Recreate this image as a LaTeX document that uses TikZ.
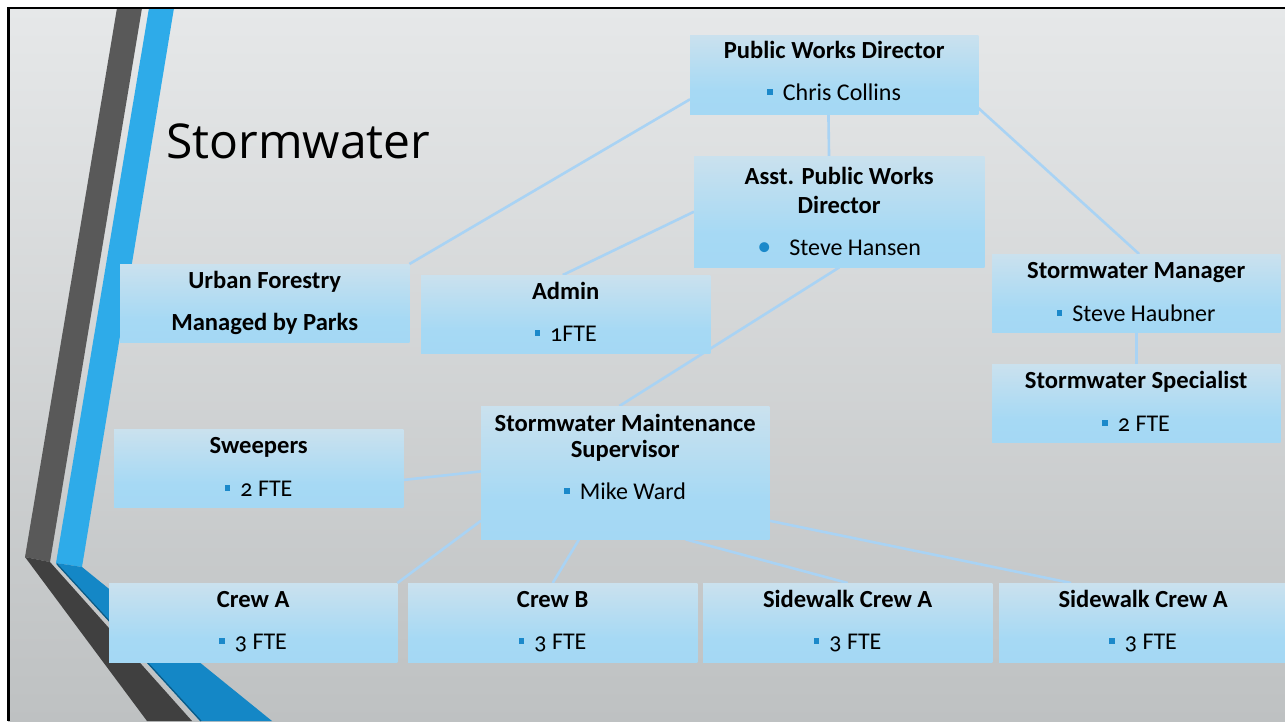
\documentclass[tikz,border=0pt]{standalone}
\usepackage{fontspec}
\setmainfont{Carlito}[Numbers=OldStyle]
\newfontfamily\titlefont{Open Sans}
\usetikzlibrary{calc}
\definecolor{bgtop}{HTML}{E6E8E9}
\definecolor{bgbot}{HTML}{BEC1C2}
\definecolor{dkA}{HTML}{595959}
\definecolor{dkB}{HTML}{404040}
\definecolor{blA}{HTML}{2EABE9}
\definecolor{blB}{HTML}{1487C6}
\definecolor{bledge}{HTML}{0B5A85}
\definecolor{conncol}{HTML}{A9D3F4}
\definecolor{bul}{HTML}{1B89CA}
\definecolor{bxtop}{HTML}{E4E7EA}
\definecolor{bxmid}{HTML}{A6D9F4}
\definecolor{bxblue}{HTML}{A2D7F4}
\definecolor{bxbot}{HTML}{C6E9FB}
\pgfdeclareverticalshading{boxshade}{100bp}{color(0bp)=(bxbot); color(9bp)=(bxblue); color(40bp)=(bxmid); color(100bp)=(bxtop)}
\newcommand{\sqb}{{\color{bul}\rule[5.5pt]{5.5pt}{5.5pt}}\hspace{10pt}}
\newcommand{\rdb}{{\color{bul}\fontsize{28}{28}\selectfont\textbullet}\hspace{18pt}}
\tikzset{
  box/.style={rectangle, draw=none, shading=boxshade, inner sep=0pt, anchor=north west},
  ttl/.style={anchor=base, inner sep=0pt, font=\fontsize{24.6}{24.6}\selectfont\bfseries},
  itm/.style={anchor=base, inner sep=0pt, font=\fontsize{24}{24}\selectfont},
  conn/.style={draw=conncol, line width=2.6pt}
}
\begin{document}
\begin{tikzpicture}[x=1pt,y=-1pt]
\useasboundingbox (0,0) rectangle (1285,721);
\fill[white] (0,0) rectangle (1285,721);
\shade[top color=bgtop, bottom color=bgbot] (8,8) rectangle (1285,721);
% left decoration
\fill[dkA] (117,8) -- (142,8) -- (50,562) -- (25,557) -- cycle;
\fill[dkB] (25,557) -- (50,562) -- (192,721) -- (147,721) -- cycle;
\fill[blA] (149,8) -- (174,8) -- (82,567) -- (56,563) -- cycle;
\fill[blB] (56,563) -- (82,567) -- (272,721) -- (200,721) -- cycle;
\draw[bledge, line width=1.2pt] (57,564) -- (201,721);
% frame
\draw[black, line width=2.5pt] (1285,8) -- (8.5,8) -- (8.5,721);
% title
\node[anchor=base west, inner sep=0pt, font=\titlefont\fontsize{48}{48}\selectfont] (title) at (166,158) {Stormwater};
% boxes
\node[box, minimum width=288pt, minimum height=79pt] (pwd) at (690,35) {};
\node[box, minimum width=290pt, minimum height=111pt] (asst) at (694,156) {};
\node[box, minimum width=289pt, minimum height=78pt] (uf) at (120,264) {};
\node[box, minimum width=289pt, minimum height=78pt] (admin) at (421,275) {};
\node[box, minimum width=288pt, minimum height=78pt] (swm) at (992,254) {};
\node[box, minimum width=288pt, minimum height=78pt] (sws) at (992,364) {};
\node[box, minimum width=289pt, minimum height=78pt] (swp) at (114,429) {};
\node[box, minimum width=288pt, minimum height=133pt] (sms) at (481,406) {};
\node[box, minimum width=288pt, minimum height=79pt] (cra) at (109,583) {};
\node[box, minimum width=289pt, minimum height=79pt] (crb) at (408,583) {};
\node[box, minimum width=289pt, minimum height=79pt] (swa) at (703,583) {};
\node[box, minimum width=288pt, minimum height=79pt] (swb) at (999,583) {};
% connectors
\draw[conn] ($(pwd.north west)!0.81!(pwd.south west)$) -- (uf.north east);
\draw[conn] ($(pwd.south west)!0.48!(pwd.south east)$) -- ($(asst.north west)!0.465!(asst.north east)$);
\draw[conn] ($(pwd.north east)!0.92!(pwd.south east)$) -- ($(swm.north west)!0.51!(swm.north east)$);
\draw[conn] (asst.west) -- ($(admin.north west)!0.49!(admin.north east)$);
\draw[conn] ($(asst.south west)!0.5!(asst.south east)$) -- ($(sms.north west)!0.48!(sms.north east)$);
\draw[conn] (swm.south) -- (sws.north);
\draw[conn] ($(sms.north west)!0.49!(sms.south west)$) -- ($(swp.north east)!0.65!(swp.south east)$);
\draw[conn] ($(sms.north west)!0.86!(sms.south west)$) -- (cra.north east);
\draw[conn] ($(sms.south west)!0.34!(sms.south east)$) -- (crb.north);
\draw[conn] ($(sms.south west)!0.71!(sms.south east)$) -- (swa.north);
\draw[conn] ($(sms.north east)!0.86!(sms.south east)$) -- ($(swb.north west)!0.25!(swb.north east)$);
% redraw boxes on top of connectors
\foreach \b in {pwd,asst,uf,admin,swm,sws,swp,sms,cra,crb,swa,swb}{
  \shade[shading=boxshade] (\b.north west) rectangle (\b.south east);
}
% texts
\node[ttl] (pwdA) at ($(pwd.north)+(0,23)$) {Public Works Director};
\node[itm] (pwdB) at ($(pwd.north)+(0,65)$) {\sqb Chris Collins};
\node[ttl] (asstA) at ($(asst.north)+(0,28)$) {Asst. Public Works};
\node[ttl] (asstB) at ($(asst.north)+(0,57)$) {Director};
\node[itm] (asstC) at ($(asst.north)+(0,99)$) {\rdb Steve Hansen};
\node[ttl] (ufA) at ($(uf.north)+(0,24)$) {Urban Forestry};
\node[ttl] (ufB) at ($(uf.north)+(0,66)$) {Managed by Parks};
\node[ttl] (adminA) at ($(admin.north)+(0,24)$) {Admin};
\node[itm] (adminB) at ($(admin.north)+(0,66)$) {\sqb 1FTE};
\node[ttl] (swmA) at ($(swm.north)+(0,24)$) {Stormwater Manager};
\node[itm] (swmB) at ($(swm.north)+(0,67)$) {\sqb Steve Haubner};
\node[ttl] (swsA) at ($(sws.north)+(0,24)$) {Stormwater Specialist};
\node[itm] (swsB) at ($(sws.north)+(0,67)$) {\sqb 2 FTE};
\node[ttl] (swpA) at ($(swp.north)+(0,24)$) {Sweepers};
\node[itm] (swpB) at ($(swp.north)+(0,67)$) {\sqb 2 FTE};
\node[ttl] (smsA) at ($(sms.north)+(0,25)$) {Stormwater Maintenance};
\node[ttl] (smsB) at ($(sms.north)+(0,51)$) {Supervisor};
\node[itm] (smsC) at ($(sms.north)+(0,93)$) {\sqb Mike Ward};
\node[ttl] (craA) at ($(cra.north)+(0,24)$) {Crew A};
\node[itm] (craB) at ($(cra.north)+(0,66)$) {\sqb 3 FTE};
\node[ttl] (crbA) at ($(crb.north)+(0,24)$) {Crew B};
\node[itm] (crbB) at ($(crb.north)+(0,66)$) {\sqb 3 FTE};
\node[ttl] (swaA) at ($(swa.north)+(0,24)$) {Sidewalk Crew A};
\node[itm] (swaB) at ($(swa.north)+(0,66)$) {\sqb 3 FTE};
\node[ttl] (swbA) at ($(swb.north)+(0,24)$) {Sidewalk Crew A};
\node[itm] (swbB) at ($(swb.north)+(0,66)$) {\sqb 3 FTE};
\end{tikzpicture}
\end{document}
